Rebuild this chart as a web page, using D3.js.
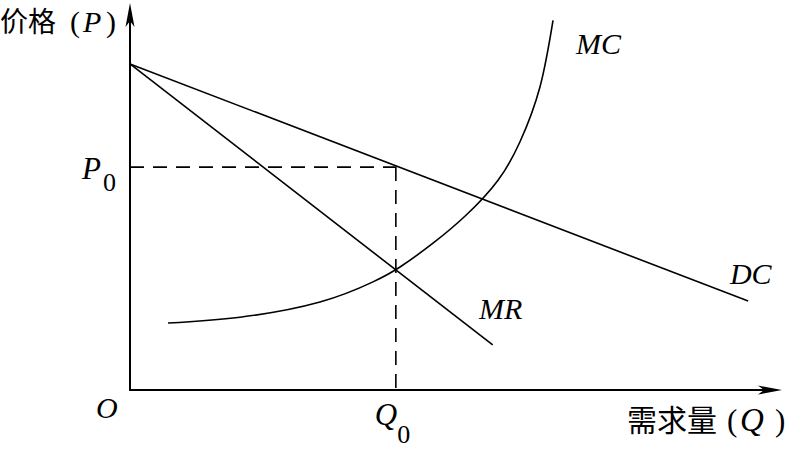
<!DOCTYPE html>
<html><head><meta charset="utf-8">
<script src="https://cdn.jsdelivr.net/npm/d3@7"></script>
<style>
html,body{margin:0;padding:0;background:#fff;}
svg{display:block;}
.cjk{font-family:"Noto Sans CJK SC","Noto Sans CJK JP",sans-serif;}
.lat{font-family:"Liberation Serif","DejaVu Serif",serif;font-style:italic;}
.rom{font-family:"Liberation Serif","DejaVu Serif",serif;font-style:normal;}
</style>
</head><body>
<script>
// Data in chart units (Q horizontal 0..10, P vertical 0..10)
const dcLine = [[0, 8.47], [9.51, 2.31]];          // demand curve DC
const mrLine = [[0, 8.47], [5.58, 1.17]];          // marginal revenue MR
const mcCurve = [[0.585,1.740],[1.692,1.891],[2.923,2.286],[3.738,2.808],[4.154,3.195],
                 [4.662,3.813],[5.185,4.564],[5.662,5.449],[6.0,6.449],[6.308,7.878],[6.508,9.600]];
const q0 = 4.09, p0 = 5.79;
const curveLabels = [
  {text:"MC", q:6.86, p:8.72},
  {text:"DC", q:9.23, p:2.75},
  {text:"MR", q:5.37, p:1.85}
];

const W = 786, H = 451;
const x = d3.scaleLinear().domain([0,10]).range([130,780]);
const y = d3.scaleLinear().domain([0,10]).range([390,5]);

const svg = d3.select("body").append("svg").attr("width",W).attr("height",H);

const line = d3.line().x(d=>x(d[0])).y(d=>y(d[1]));

// axes
svg.append("line").attr("x1",x(0)).attr("y1",y(0)).attr("x2",x(0)).attr("y2",y(9.8))
  .attr("stroke","#000").attr("stroke-width",2);
svg.append("line").attr("x1",x(0)-1).attr("y1",y(0)).attr("x2",x(9.9)).attr("y2",y(0))
  .attr("stroke","#000").attr("stroke-width",2);
// arrowheads
const tx = x(0), ty = y(10)-2;
svg.append("path").attr("d",`M${tx},${ty} L${tx-4.5},${ty+24} L${tx},${ty+18} L${tx+4.5},${ty+24} Z`).attr("fill","#000");
const ax = x(10)+2, ay = y(0);
svg.append("path").attr("d",`M${ax},${ay} L${ax-24},${ay-4.5} L${ax-18},${ay} L${ax-24},${ay+4.5} Z`).attr("fill","#000");

// dashed guides
svg.append("line").attr("x1",x(0)).attr("y1",y(p0)).attr("x2",x(q0)).attr("y2",y(p0))
  .attr("stroke","#000").attr("stroke-width",1.6).attr("stroke-dasharray","14,9");
svg.append("line").attr("x1",x(q0)).attr("y1",y(p0)).attr("x2",x(q0)).attr("y2",y(0))
  .attr("stroke","#000").attr("stroke-width",1.6).attr("stroke-dasharray","14,9");

// curves
svg.append("path").attr("d",line(dcLine)).attr("fill","none").attr("stroke","#000").attr("stroke-width",1.6);
svg.append("path").attr("d",line(mrLine)).attr("fill","none").attr("stroke","#000").attr("stroke-width",1.6);
svg.append("path").attr("d",d3.line().x(d=>x(d[0])).y(d=>y(d[1])).curve(d3.curveNatural)(mcCurve))
  .attr("fill","none").attr("stroke","#000").attr("stroke-width",1.6);

// curve labels
svg.selectAll("text.cl").data(curveLabels).enter().append("text")
  .attr("class","cl lat").attr("x",d=>x(d.q)).attr("y",d=>y(d.p))
  .attr("font-size",30).text(d=>d.text);

// axis titles
const t1 = svg.append("text").attr("y",32).attr("font-size",28);
t1.append("tspan").attr("class","cjk").attr("x",0).text("价格");
t1.append("tspan").attr("class","rom").attr("x",70).attr("font-size",30).text("(");
t1.append("tspan").attr("class","lat").attr("x",83).attr("font-size",30).text("P");
t1.append("tspan").attr("class","rom").attr("x",106).attr("font-size",30).text(")");

const t2 = svg.append("text").attr("y",431).attr("font-size",30);
t2.append("tspan").attr("class","cjk").attr("x",627).text("需求量");
t2.append("tspan").attr("class","rom").attr("x",727).attr("font-size",31).text("(");
t2.append("tspan").attr("class","lat").attr("x",740).attr("font-size",33).text("Q");
t2.append("tspan").attr("class","rom").attr("x",775).attr("font-size",31).text(")");

// O
svg.append("text").attr("class","lat").attr("x",96).attr("y",418).attr("font-size",30).text("O");

// P0
const tp = svg.append("text").attr("x",x(0)-48).attr("y",y(p0)+12).attr("font-size",31);
tp.append("tspan").attr("class","lat").text("P");
tp.append("tspan").attr("class","rom").attr("font-size",26).attr("dx",2).attr("dy",12).text("0");

// Q0
const tq = svg.append("text").attr("x",x(q0)-21).attr("y",425).attr("font-size",31);
tq.append("tspan").attr("class","lat").text("Q");
tq.append("tspan").attr("class","rom").attr("font-size",26).attr("dx",0).attr("dy",18).text("0");
</script>
</body></html>
